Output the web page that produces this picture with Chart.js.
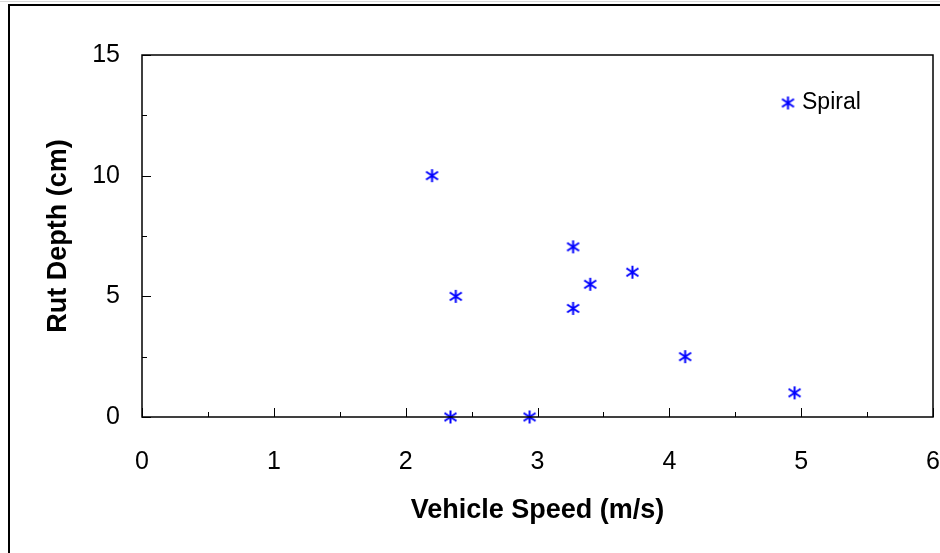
<!DOCTYPE html>
<html>
<head>
<meta charset="utf-8">
<script src="https://cdn.jsdelivr.net/npm/chart.js@4.4.0/dist/chart.umd.min.js"></script>
<style>
  body { margin: 0; background: #fff; }
  #wrap { position: relative; width: 940px; height: 553px; }
</style>
</head>
<body>
<div id="wrap"><canvas id="rutChart" width="940" height="553"></canvas></div>
<script>
// Data
const seriesName = 'Spiral';
const speed = [2.2, 2.38, 2.34, 2.94, 3.27, 3.27, 3.4, 3.72, 4.12, 4.95];
const rutDepth = [10, 5, 0, 0, 7.05, 4.5, 5.5, 6, 2.5, 1];
const xTicks = [0, 1, 2, 3, 4, 5, 6];
const yTicks = [0, 5, 10, 15];

const fontName = "'Liberation Sans', Arial, sans-serif";
const blue = '#0000ff';

// asterisk marker: vertical bar plus an X
function makeMarker() {
    const c = document.createElement('canvas');
    c.width = 15; c.height = 15;
    const g = c.getContext('2d');
    g.strokeStyle = blue;
    g.lineWidth = 2;
    g.beginPath();
    g.moveTo(7.5, 1); g.lineTo(7.5, 14);
    g.moveTo(1.5, 3.5); g.lineTo(13.5, 11.5);
    g.moveTo(1.5, 11.5); g.lineTo(13.5, 3.5);
    g.stroke();
    return c;
}
const marker = makeMarker();

const points = speed.map((v, i) => ({ x: v, y: rutDepth[i] }));

// frame, inner tick marks, legend and outer border
const decor = {
    id: 'decor',
    beforeDraw(chart) {
        const ctx = chart.ctx;
        ctx.save();
        ctx.fillStyle = '#fff';
        ctx.fillRect(0, 0, chart.width, chart.height);
        ctx.strokeStyle = '#d8d8d8';
        ctx.lineWidth = 1;
        ctx.beginPath();
        ctx.moveTo(0, 1.5); ctx.lineTo(chart.width, 1.5);
        ctx.stroke();
        ctx.strokeStyle = '#000';
        ctx.lineWidth = 2;
        ctx.beginPath();
        ctx.moveTo(9, chart.height); ctx.lineTo(9, 5); ctx.lineTo(chart.width, 5);
        ctx.stroke();
        ctx.restore();
    },
    afterDraw(chart) {
        const ctx = chart.ctx;
        const a = chart.chartArea;
        const xs = chart.scales.x, ys = chart.scales.y;
        ctx.save();
        ctx.strokeStyle = '#000';
        ctx.lineWidth = 1.5;
        ctx.strokeRect(a.left, a.top, a.right - a.left, a.bottom - a.top);
        ctx.beginPath();
        for (let v = xs.min; v <= xs.max; v += 0.5) {
            const px = Math.round(xs.getPixelForValue(v)) + 0.5;
            const len = Number.isInteger(v) ? 9 : 5;
            ctx.moveTo(px, a.bottom); ctx.lineTo(px, a.bottom - len);
        }
        for (let v = ys.min; v <= ys.max; v += 2.5) {
            const py = Math.round(ys.getPixelForValue(v)) + 0.5;
            const len = v % 5 === 0 ? 9 : 5;
            ctx.moveTo(a.left, py); ctx.lineTo(a.left + len, py);
        }
        ctx.lineWidth = 1;
        ctx.stroke();

        // legend inside the plot
        const lx = a.right - 145, ly = a.top + 48;
        ctx.drawImage(marker, lx - 7.5, ly - 7.5);
        ctx.fillStyle = '#000';
        ctx.font = '23px ' + fontName;
        ctx.textBaseline = 'middle';
        ctx.textAlign = 'left';
        ctx.fillText(chart.data.datasets[0].label, lx + 14, ly);
        ctx.restore();
    }
};

const ctx = document.getElementById('rutChart').getContext('2d');
const rutChart = new Chart(ctx, {
    type: 'scatter',
    data: {
        datasets: [{
            label: seriesName,
            data: points,
            pointStyle: marker,
            borderColor: blue,
            backgroundColor: blue,
            clip: false
        }]
    },
    options: {
        responsive: false,
        animation: false,
        layout: { padding: { left: 0, top: 55, right: 7, bottom: 0 } },
        plugins: {
            legend: { display: false },
            tooltip: { enabled: false }
        },
        scales: {
            x: {
                type: 'linear',
                min: 0, max: 6,
                afterBuildTicks: s => { s.ticks = xTicks.map(v => ({ value: v })); },
                afterFit: s => { s.height = 136; s.paddingLeft = 0; s.paddingRight = 0; },
                grid: { display: false, drawTicks: false },
                border: { display: false },
                ticks: { color: '#000', padding: 30, font: { family: fontName, size: 25 } },
                title: {
                    display: true,
                    text: 'Vehicle Speed (m/s)',
                    color: '#000',
                    font: { family: fontName, size: 27, weight: 'bold' },
                    padding: { top: 0, bottom: 26 }
                }
            },
            y: {
                type: 'linear',
                min: 0, max: 15,
                afterBuildTicks: s => { s.ticks = yTicks.map(v => ({ value: v })); },
                afterFit: s => { s.width = 142; s.paddingTop = 0; s.paddingBottom = 0; },
                grid: { display: false, drawTicks: false },
                border: { display: false },
                ticks: { color: '#000', padding: 22, font: { family: fontName, size: 25 } },
                title: {
                    display: true,
                    text: 'Rut Depth (cm)',
                    color: '#000',
                    font: { family: fontName, size: 27, weight: 'bold' },
                    padding: { top: 42, bottom: 0 }
                }
            }
        }
    },
    plugins: [decor]
});
</script>
</body>
</html>
